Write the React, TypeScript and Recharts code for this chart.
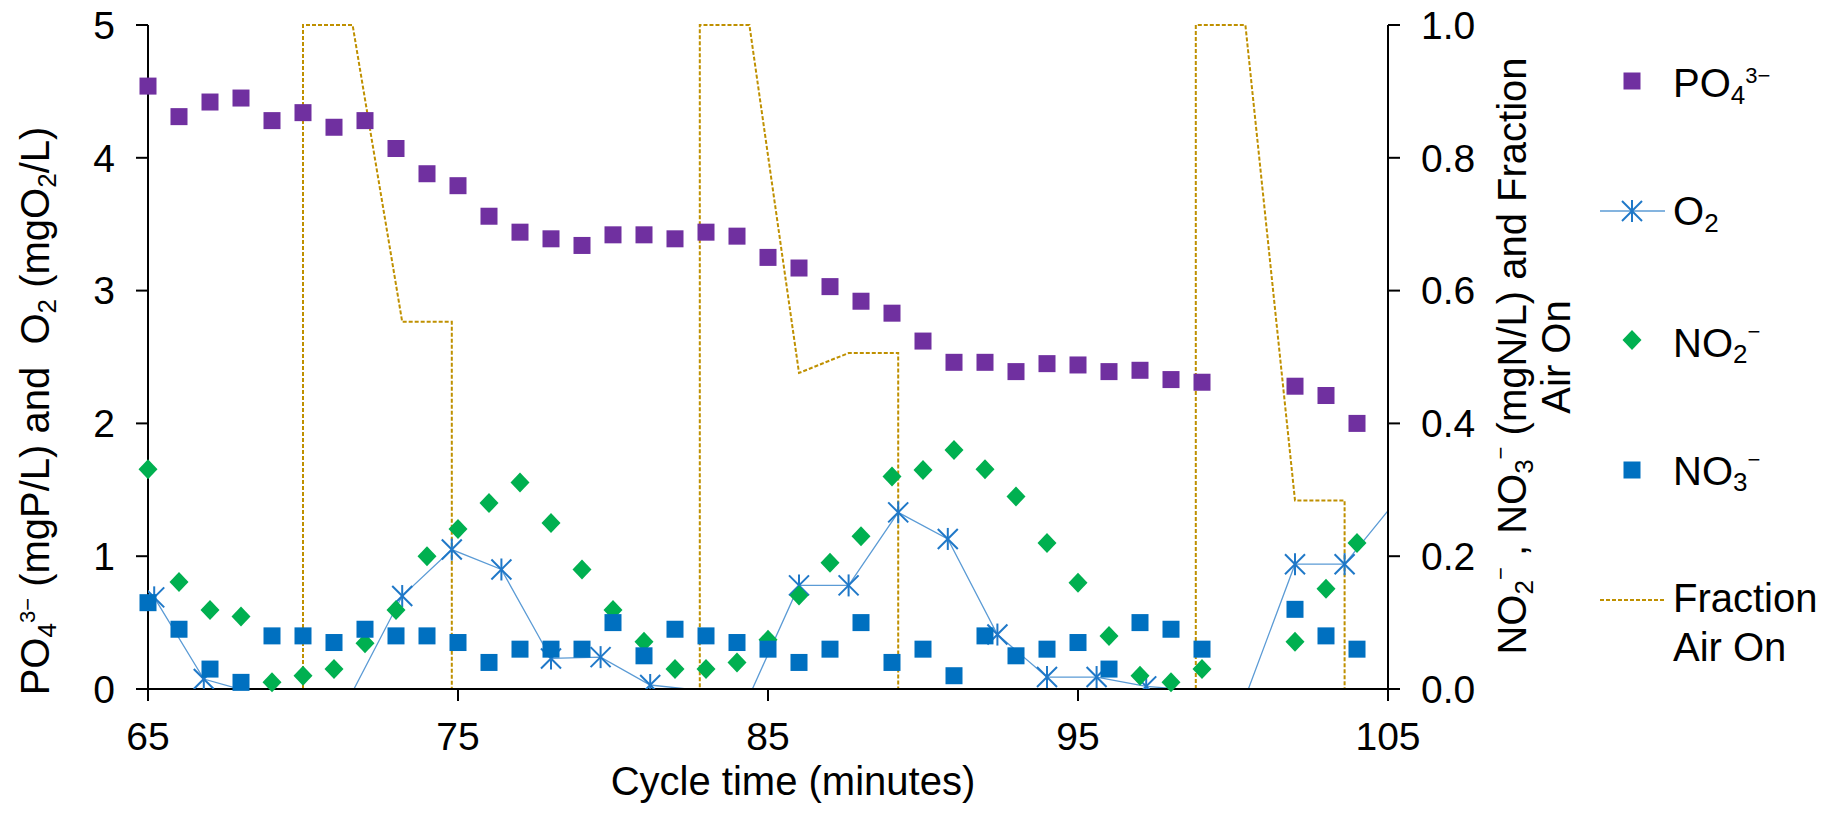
import React from "react";
import { ComposedChart, Scatter, Line, XAxis, YAxis } from "recharts";

const FONT = "'Liberation Sans', Arial, Helvetica, sans-serif";
const PURPLE = "#7030A0";
const BLUE = "#0070C0";
const GREEN = "#00B050";
const O2_LINE = "#5B9BD5";
const O2_MARK = "#1F78C8";
const AIR = "#BF9000";

// Sampling times (minutes) for the lab samples
const sampleMinutes = [
  65, 66, 67, 68, 69, 70, 71, 72, 73, 74, 75, 76, 77, 78, 79, 80, 81, 82, 83,
  84, 85, 86, 87, 88, 89, 90, 91, 92, 93, 94, 95, 96, 97, 98, 99, 102, 103, 104,
];
// PO4 (mgP/L), left axis
const po4 = [
  4.54, 4.31, 4.42, 4.45, 4.28, 4.34, 4.23, 4.28, 4.07, 3.88, 3.79, 3.56, 3.44,
  3.39, 3.34, 3.42, 3.42, 3.39, 3.44, 3.41, 3.25, 3.17, 3.03, 2.92, 2.83, 2.62,
  2.46, 2.46, 2.39, 2.45, 2.44, 2.39, 2.4, 2.33, 2.31, 2.28, 2.21, 2.0,
];
// NO2 and NO3 (mgN/L), right axis
const no2 = [
  0.331, 0.161, 0.119, 0.109, 0.01, 0.02, 0.03, 0.069, 0.119, 0.2, 0.241, 0.28,
  0.311, 0.25, 0.18, 0.119, 0.071, 0.03, 0.03, 0.04, 0.074, 0.141, 0.19, 0.23,
  0.32, 0.33, 0.36, 0.331, 0.29, 0.22, 0.16, 0.08, 0.02, 0.01, 0.03, 0.071,
  0.151, 0.22,
];
const no3 = [
  0.13, 0.09, 0.03, 0.01, 0.08, 0.08, 0.07, 0.09, 0.08, 0.08, 0.07, 0.04, 0.06,
  0.06, 0.06, 0.1, 0.05, 0.09, 0.08, 0.07, 0.06, 0.04, 0.06, 0.1, 0.04, 0.06,
  0.02, 0.08, 0.05, 0.06, 0.07, 0.03, 0.1, 0.09, 0.06, 0.12, 0.08, 0.06,
];

// Online O2 probe (mgO2/L), left axis; values below 0 are cut off by the axis
const o2Minutes = [
  65.2, 66.8, 68.4, 70.0, 71.6, 73.2, 74.8, 76.4, 78.0, 79.6, 81.2, 82.8, 84.4,
  86.0, 87.6, 89.2, 90.8, 92.4, 94.0, 95.6, 97.2, 98.8, 100.4, 102.0, 103.6,
  105.2,
];
const o2 = [
  0.69, 0.075, -0.03, -0.2, -0.02, 0.7, 1.05, 0.9, 0.23, 0.24, 0.03, -0.01,
  -0.05, 0.78, 0.78, 1.33, 1.13, 0.41, 0.09, 0.09, 0.02, -0.01, -0.06, 0.94,
  0.94, 1.4,
];

// Fraction of time the air is on, right axis
const airMinutes = [
  65, 70, 70, 71.6, 73.2, 74.8, 74.8, 82.8, 82.8, 84.4, 86.0, 87.6, 89.2, 89.2,
  98.8, 98.8, 100.4, 102.0, 103.6, 103.6, 105,
];
const airFraction = [
  0, 0, 1, 1, 0.553, 0.553, 0, 0, 1, 1, 0.476, 0.506, 0.506, 0, 0, 1, 1, 0.284,
  0.284, 0, 0,
];

const xTicks = [65, 75, 85, 95, 105];
const leftTicks = [0, 1, 2, 3, 4, 5];
const rightTicks = [0, 0.2, 0.4, 0.6, 0.8, 1];

const po4Data = sampleMinutes.map((t, i) => ({ t, v: po4[i] }));
const no2Data = sampleMinutes.map((t, i) => ({ t, v: no2[i] }));
const no3Data = sampleMinutes.map((t, i) => ({ t, v: no3[i] }));
const o2Data = o2Minutes.map((t, i) => ({ t, v: o2[i] }));
const airData = airMinutes.map((t, i) => ({ t, v: airFraction[i] }));

const squareShape = (color: string) => (p: any) => (
  <rect x={p.cx - 8.5} y={p.cy - 8.5} width={17} height={17} fill={color} />
);

const diamondShape = (p: any) => (
  <path
    d={`M${p.cx},${p.cy - 10} L${p.cx + 9.5},${p.cy} L${p.cx},${p.cy + 10} L${p.cx - 9.5},${p.cy} Z`}
    fill={GREEN}
  />
);

function Asterisk({ cx, cy }: { cx: number; cy: number }) {
  return (
    <g stroke={O2_MARK} strokeWidth={2} fill="none">
      <line x1={cx - 10} y1={cy - 10} x2={cx + 10} y2={cy + 10} />
      <line x1={cx - 10} y1={cy + 10} x2={cx + 10} y2={cy - 10} />
      <line x1={cx} y1={cy - 11} x2={cx} y2={cy + 11} />
    </g>
  );
}

// markers only for readings that fall inside the axes
const o2Dot = (p: any) => {
  const d = p.payload || {};
  if (d.v < 0 || d.t > 105) return <g key={`o2-${p.index}`} />;
  return <Asterisk key={`o2-${p.index}`} cx={p.cx} cy={p.cy} />;
};

const SUB = 26;
const SUP = 22;

function LeftTitle() {
  return (
    <text
      transform="translate(49,411) rotate(-90)"
      textAnchor="middle"
      fontSize={40}
      fontFamily={FONT}
      fill="#000"
      style={{ whiteSpace: "pre" }}
    >
      PO
      <tspan fontSize={SUB} dy={7}>4</tspan>
      <tspan fontSize={SUP} dy={-21}>3−</tspan>
      <tspan dy={14}> (mgP/L) and  O</tspan>
      <tspan fontSize={SUB} dy={7}>2</tspan>
      <tspan dy={-7}> (mgO</tspan>
      <tspan fontSize={SUB} dy={7}>2</tspan>
      <tspan dy={-7}>/L)</tspan>
    </text>
  );
}

function RightTitle() {
  return (
    <g fontSize={40} fontFamily={FONT} fill="#000" style={{ whiteSpace: "pre" }}>
      <text transform="translate(1526,356) rotate(-90)" textAnchor="middle">
        NO
        <tspan fontSize={SUB} dy={7}>2</tspan>
        <tspan fontSize={SUP} dy={-25}>−</tspan>
        <tspan dy={18}> , NO</tspan>
        <tspan fontSize={SUB} dy={7}>3</tspan>
        <tspan fontSize={SUP} dy={-25}>−</tspan>
        <tspan dy={18}> (mgN/L) and Fraction</tspan>
      </text>
      <text transform="translate(1570,357) rotate(-90)" textAnchor="middle">
        Air On
      </text>
    </g>
  );
}

function BottomTitle() {
  return (
    <text x={793} y={795} textAnchor="middle" fontSize={40} fontFamily={FONT} fill="#000">
      Cycle time (minutes)
    </text>
  );
}

function ChartLegend() {
  return (
    <svg
      width={1844}
      height={813}
      style={{ position: "absolute", left: 0, top: 0, pointerEvents: "none" }}
      fontFamily={FONT}
    >
      <g fontSize={40} fill="#000">
        <rect x={1623.5} y={72.5} width={17} height={17} fill={PURPLE} />
        <text x={1673} y={97}>
          PO<tspan fontSize={SUB} dy={7}>4</tspan>
          <tspan fontSize={SUP} dy={-21}>3−</tspan>
        </text>

        <line x1={1600} x2={1665} y1={211} y2={211} stroke={O2_LINE} strokeWidth={1.5} />
        <Asterisk cx={1632} cy={211} />
        <text x={1673} y={225}>
          O<tspan fontSize={SUB} dy={7}>2</tspan>
        </text>

        <path d="M1632,330 L1641.5,340 L1632,350 L1622.5,340 Z" fill={GREEN} />
        <text x={1673} y={357}>
          NO<tspan fontSize={SUB} dy={6}>2</tspan>
          <tspan fontSize={SUP} dy={-24}>−</tspan>
        </text>

        <rect x={1623.5} y={461.5} width={17} height={17} fill={BLUE} />
        <text x={1673} y={485}>
          NO<tspan fontSize={SUB} dy={6}>3</tspan>
          <tspan fontSize={SUP} dy={-24}>−</tspan>
        </text>

        <line
          x1={1600}
          x2={1665}
          y1={600}
          y2={600}
          stroke={AIR}
          strokeWidth={2}
          strokeDasharray="4 2"
        />
        <text x={1673} y={612}>Fraction</text>
        <text x={1673} y={661}>Air On</text>
      </g>
    </svg>
  );
}

const axisLine = { stroke: "#000", strokeWidth: 2 };
const tickStyle = { fill: "#000", fontSize: 39, fontFamily: FONT };

export default function App() {
  return (
    <div
      style={{
        position: "absolute",
        left: 0,
        top: 0,
        width: 1844,
        height: 813,
        background: "#fff",
      }}
    >
      <ComposedChart
        width={1844}
        height={813}
        margin={{ top: 25, right: 0, bottom: 0, left: 0 }}
      >
        <XAxis
          xAxisId="main"
          dataKey="t"
          type="number"
          domain={[65, 105]}
          ticks={xTicks}
          interval={0}
          height={124}
          tickSize={12}
          tickMargin={21}
          axisLine={axisLine}
          tickLine={axisLine}
          tick={tickStyle}
          label={<BottomTitle />}
        />
        <XAxis
          xAxisId="o2"
          dataKey="t"
          type="number"
          domain={[65, 105]}
          allowDataOverflow
          hide
        />
        <YAxis
          yAxisId="left"
          orientation="left"
          type="number"
          domain={[0, 5]}
          ticks={leftTicks}
          interval={0}
          width={148}
          tickSize={12}
          tickMargin={21}
          axisLine={axisLine}
          tickLine={axisLine}
          tick={tickStyle}
          label={<LeftTitle />}
        />
        <YAxis
          yAxisId="right"
          orientation="right"
          type="number"
          domain={[0, 1]}
          ticks={rightTicks}
          interval={0}
          width={456}
          tickSize={12}
          tickMargin={21}
          axisLine={axisLine}
          tickLine={axisLine}
          tick={tickStyle}
          tickFormatter={(v: number) => v.toFixed(1)}
          label={<RightTitle />}
        />
        <YAxis yAxisId="o2" type="number" domain={[0, 5]} allowDataOverflow hide />

        <Scatter
          name="PO4"
          xAxisId="main"
          yAxisId="left"
          data={po4Data}
          dataKey="v"
          shape={squareShape(PURPLE)}
          isAnimationActive={false}
        />
        <Line
          name="O2"
          xAxisId="o2"
          yAxisId="o2"
          data={o2Data}
          dataKey="v"
          type="linear"
          stroke={O2_LINE}
          strokeWidth={1.3}
          dot={o2Dot}
          activeDot={false}
          isAnimationActive={false}
        />
        <Scatter
          name="NO2"
          xAxisId="main"
          yAxisId="right"
          data={no2Data}
          dataKey="v"
          shape={diamondShape}
          isAnimationActive={false}
        />
        <Scatter
          name="NO3"
          xAxisId="main"
          yAxisId="right"
          data={no3Data}
          dataKey="v"
          shape={squareShape(BLUE)}
          isAnimationActive={false}
        />
        <Line
          name="Fraction Air On"
          xAxisId="main"
          yAxisId="right"
          data={airData}
          dataKey="v"
          type="linear"
          stroke={AIR}
          strokeWidth={2}
          strokeDasharray="4 2"
          dot={false}
          activeDot={false}
          isAnimationActive={false}
        />
      </ComposedChart>
      <ChartLegend />
    </div>
  );
}
